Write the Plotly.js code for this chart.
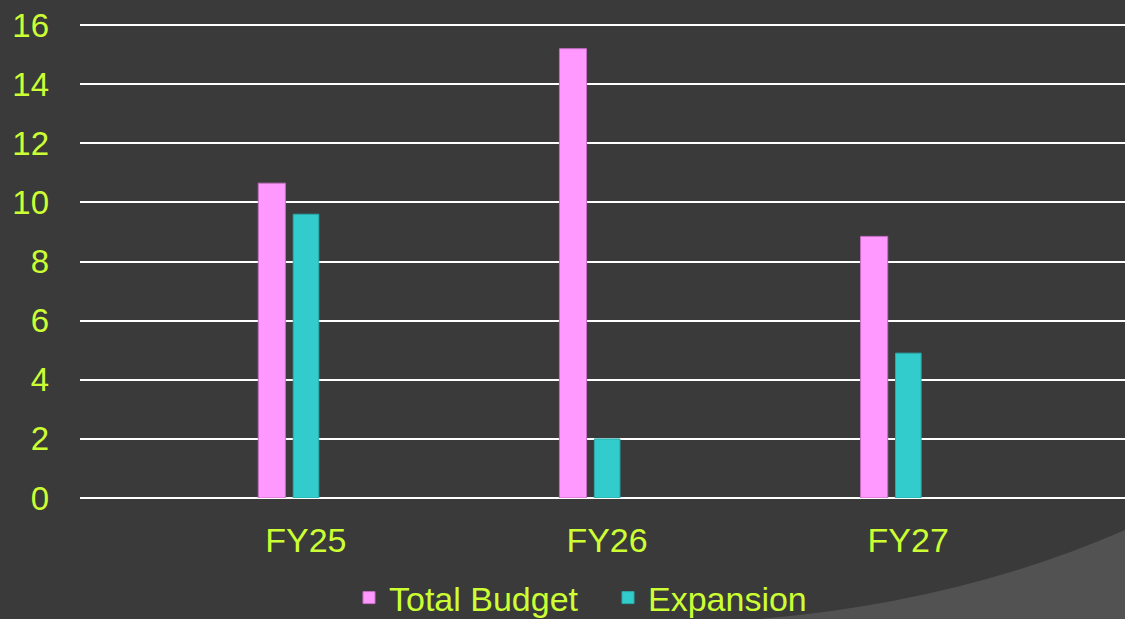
<!DOCTYPE html>
<html>
<head>
<meta charset="utf-8">
<script src="https://cdn.plot.ly/plotly-3.0.1.min.js"></script>
<style>
html,body{margin:0;padding:0;background:#3a3a3a;}
#chart{width:1125px;height:619px;}
</style>
</head>
<body>
<div id="chart"></div>
<script>
const categories = ["FY25", "FY26", "FY27"];
const totalBudget = [10.65, 15.2, 8.85];
const expansion = [9.6, 2.0, 4.9];
const seriesNames = ["Total Budget", "Expansion"];
const yTicks = [0, 2, 4, 6, 8, 10, 12, 14, 16];

const W = 1125, H = 619;
const mL = 80, mR = 0, mT = 20, mB = 121;
const pw = W - mL - mR, ph = H - mT - mB;
function px(x){ return (x - mL) / pw; }
function py(y){ return (H - mB - y) / ph; }

const txt = '#ccff33';
const fontFam = 'Liberation Sans, Arial, sans-serif';

const traces = [
  {
    type: 'bar', x: categories, y: totalBudget, name: seriesNames[0],
    marker: {color: '#ff99ff', line: {color: '#c46ec4', width: 1}},
    width: 0.09, offset: -0.158, hoverinfo: 'x+y+name'
  },
  {
    type: 'bar', x: categories, y: expansion, name: seriesNames[1],
    marker: {color: '#33cccc', line: {color: '#2aa8a8', width: 1}},
    width: 0.085, offset: -0.042, hoverinfo: 'x+y+name'
  }
];

const layout = {
  width: W, height: H,
  paper_bgcolor: '#3a3a3a',
  plot_bgcolor: 'rgba(0,0,0,0)',
  margin: {l: mL, r: mR, t: mT, b: mB, pad: 0},
  font: {family: fontFam, color: txt, size: 32},
  barmode: 'group',
  xaxis: {
    type: 'category',
    range: [-0.75, 2.72],
    showgrid: false, zeroline: false, showline: false,
    ticks: '', ticklabelstandoff: 19,
    tickfont: {family: fontFam, color: txt, size: 34}
  },
  yaxis: {
    range: [0, 16.17],
    tickvals: yTicks,
    ticktext: yTicks.map(String),
    showgrid: true, gridcolor: '#ffffff', gridwidth: 2,
    zeroline: true, zerolinecolor: '#ffffff', zerolinewidth: 2,
    showline: false, ticks: '', ticklabelstandoff: 30,
    tickfont: {family: fontFam, color: txt, size: 33}
  },
  showlegend: true,
  legend: {
    orientation: 'h',
    xref: 'container', yref: 'container',
    x: 349 / W, xanchor: 'left',
    y: (H - 598) / H, yanchor: 'middle',
    bgcolor: 'rgba(0,0,0,0)',
    font: {family: fontFam, color: txt, size: 34},
    itemwidth: 30,
    entrywidth: 214
  },
  shapes: [
    {
      type: 'path', xref: 'paper', yref: 'paper', layer: 'below',
      path: 'M' + px(760) + ',' + py(619) + ' Q' + px(960) + ',' + py(602) + ' ' + px(1125) + ',' + py(530) +
            ' L' + px(1125) + ',' + py(619) + ' Z',
      fillcolor: '#525252', line: {width: 0}
    }
  ]
};

Plotly.newPlot('chart', traces, layout, {displayModeBar: false, staticPlot: true});
</script>
</body>
</html>
